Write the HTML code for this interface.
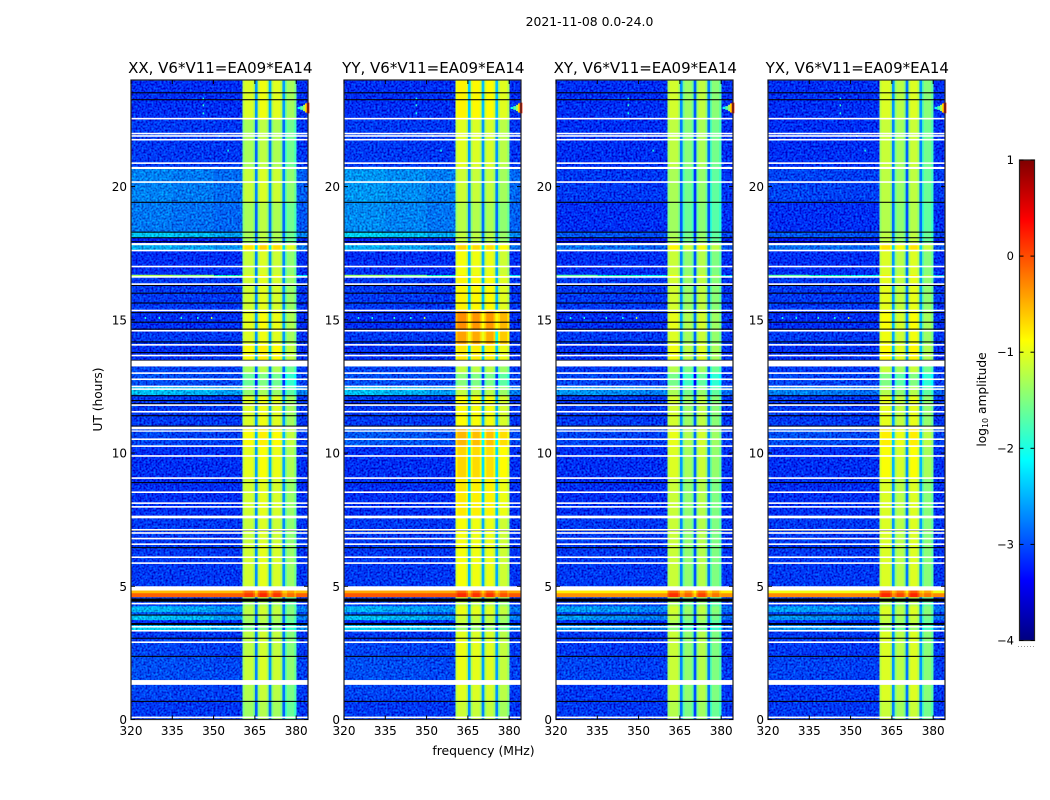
<!DOCTYPE html>
<html>
<head>
<meta charset="utf-8">
<title>2021-11-08 dynamic spectra</title>
<style>
html,body{margin:0;padding:0;background:#fff;width:1050px;height:800px;overflow:hidden}
svg{display:block;font-family:"DejaVu Sans","Liberation Sans",sans-serif}
</style>
</head>
<body>
<svg id="fig" xmlns="http://www.w3.org/2000/svg" width="1050" height="800" viewBox="0 0 1050 800">
  <defs>
    <filter id="grain" x="0" y="0" width="1" height="1" color-interpolation-filters="sRGB">
      <feTurbulence type="fractalNoise" baseFrequency="0.5" numOctaves="1" seed="4" result="n"/>
      <feColorMatrix in="n" type="matrix" values="0 0 0 0 0  1 0 0 0 0  1 0 0 0 0  0 0 0 0 1" result="m"/>
      <feComposite in="SourceGraphic" in2="m" operator="arithmetic" k1="0" k2="1" k3="0.85" k4="-0.47" result="c"/>
      <feComposite in="c" in2="SourceGraphic" operator="in"/>
    </filter>
    <linearGradient id="jetGrad" x1="0" y1="1" x2="0" y2="0"></linearGradient>
  </defs>
  <rect x="0" y="0" width="1050" height="800" fill="#fff"/>
  <text x="589.500" y="26" font-size="12.400" text-anchor="middle" fill="#000">2021-11-08 0.0-24.0</text>
  <text x="483.500" y="755" font-size="12.400" text-anchor="middle" fill="#000">frequency (MHz)</text>
  <text transform="translate(102,399.500) rotate(-90)" font-size="12.200" text-anchor="middle" fill="#000">UT (hours)</text>
  <g id="panels"></g>
  <g id="colorbar"></g>
  <text transform="translate(986,399.500) rotate(-90)" font-size="12.200" text-anchor="middle" fill="#000">log<tspan font-size="8" dy="2">10</tspan><tspan dy="-2"> amplitude</tspan></text>
</svg>
<script>
/* ---- shared axis data ---- */
const panelNames = ['XX', 'YY', 'XY', 'YX'];
const panelSuffix = ', V6*V11=EA09*EA14';
const xTicks = [320, 335, 350, 365, 380];
const yTicks = [0, 5, 10, 15, 20];
const cbarTicks = [-4, -3, -2, -1, 0, 1];

/* frequency channel edges (MHz) and what each channel block shows */
const freqEdges = [320, 335, 350, 360.5, 361.2, 364.3, 365, 366, 366.7, 369.3, 370, 371, 371.7, 374.3, 375, 376, 376.7, 379.3, 380, 384.3];
const freqKind = ['bg','bg','bg','band','band','band','notch','band','band','band','notch','band','band','band','notch','band','band','band','bg'];
const bandColumn = [0,0,0,0,0,0,0,1,1,1,1,2,2,2,2,3,3,3,0];
const bandShape = [0,0,0,-0.15,0.03,-0.15,0,-0.2,0.03,-0.2,0,-0.2,0.03,-0.2,0,-0.2,0.03,-0.2,0];
const bgWeight = [1,0.9,0.75,0,0,0,0,0,0,0,0,0,0,0,0,0,0,0,0.55];

/* time-block upper edges (hours UT) */
const timeTops = [0.73,1.48,2.38,2.99,3.36,3.55,3.74,3.92,4.04,4.26,4.60,4.75,4.86,6.55,7.64,9.07,10.27,10.95,12.19,12.52,13.01,13.50,14.08,14.65,15.38,16.62,16.69,17.59,17.89,18.08,18.31,19.4,20.71,22.51,24];

/* log10 amplitude per time block: off-band background */
const bgXX = [-3.05,-3.0,-2.95,-3.0,-3.05,-2.3,-3.1,-2.4,-2.9,-2.45,-3.0,-0.1,-0.55,-3.05,-3.05,-3.1,-3.1,-3.0,-3.05,-2.4,-2.95,-3.0,-3.1,-3.05,-3.1,-3.05,-1.3,-3.1,-2.5,-3.2,-2.35,-2.75,-2.7,-3.05,-3.1];
const bgYY = [-3.05,-3.0,-2.95,-3.0,-3.05,-2.3,-3.1,-2.4,-2.9,-2.45,-3.0,-0.05,-0.45,-3.05,-3.05,-3.1,-3.1,-2.9,-3.05,-2.4,-2.95,-3.0,-3.1,-3.05,-3.1,-3.05,-1.4,-3.1,-2.5,-3.2,-2.3,-2.65,-2.6,-3.05,-3.1];
const bgXY = [-3.05,-3.05,-3.0,-3.05,-3.05,-2.6,-3.1,-2.6,-3.0,-2.55,-3.0,-0.35,-0.8,-3.05,-3.05,-3.1,-3.1,-3.0,-3.05,-2.6,-3.0,-3.05,-3.1,-3.05,-3.1,-3.05,-1.7,-3.1,-2.8,-3.25,-2.9,-3.1,-3.05,-3.1,-3.1];
const bgYX = [-3.05,-3.05,-3.0,-3.05,-3.05,-2.6,-3.1,-2.6,-3.0,-2.55,-3.0,-0.3,-0.95,-3.05,-3.05,-3.1,-3.1,-2.95,-3.05,-2.7,-3.0,-3.05,-3.1,-3.05,-3.1,-3.05,-1.7,-3.1,-2.8,-3.25,-2.9,-3.1,-3.0,-3.1,-3.1];

/* log10 amplitude per time block: in-band emission */
const bandXX = [-1.3,-1.2,-1.1,-1.15,-1.15,-1.5,-1.3,-1.25,-1.15,-1.15,-1.3,0.15,-0.1,-1.05,-1.1,-1.05,-0.95,-0.85,-1.0,-1.35,-1.55,-1.25,-0.85,-1.0,-0.95,-1.05,-0.85,-1.1,-0.7,-1.25,-1.25,-1.25,-1.1,-1.25,-1.0];
const bandYY = [-1.15,-1.05,-1.0,-1.0,-1.05,-1.4,-1.2,-1.15,-1.0,-1.0,-1.2,0.15,-0.1,-0.95,-0.95,-0.8,-0.7,-0.55,-0.9,-1.2,-1.5,-1.2,-0.8,-0.45,-0.35,-0.85,-0.8,-0.95,-0.7,-1.2,-1.2,-1.25,-1.15,-1.05,-0.85];
const bandXY = [-1.25,-1.15,-1.15,-1.15,-1.15,-1.5,-1.3,-1.2,-1.15,-1.1,-1.3,0.15,-0.1,-1.15,-1.15,-1.15,-1.05,-1.0,-1.1,-1.3,-1.55,-1.25,-0.95,-1.05,-1.0,-1.1,-0.9,-1.15,-0.85,-1.25,-1.3,-1.35,-1.3,-1.2,-1.1];
const bandYX = [-1.2,-1.1,-1.1,-1.1,-1.1,-1.45,-1.25,-1.2,-1.1,-1.1,-1.3,0.15,-0.1,-1.1,-1.1,-1.1,-0.95,-0.85,-1.05,-1.3,-1.55,-1.2,-0.9,-1.0,-0.95,-1.05,-0.85,-1.1,-0.8,-1.25,-1.25,-1.3,-1.25,-1.2,-1.1];

/* per-panel offset for each of the four in-band columns */
const columnXX = [-0.08, 0.02, -0.05, -0.35];
const columnYY = [0, -0.03, -0.05, -0.2];
const columnXY = [-0.02, -0.28, -0.12, -0.38];
const columnYX = [0.02, -0.15, 0.03, -0.38];

/* how far the narrow notches sit below the band, normally and in the hot rows */
const notchDrop = 1.55;
const hotNotchDrop = 0.5;

/* flagged (white) time ranges, hours UT */
const gapStart = [0.05,1.30,2.87,3.30,3.45,4.32,4.84,5.84,6.06,6.55,6.76,6.97,7.09,7.55,7.95,8.09,8.50,9.03,9.86,10.23,10.49,10.80,10.89,11.52,11.77,12.37,12.47,12.74,12.97,13.25,13.63,14.03,14.56,15.32,16.31,16.58,16.97,17.57,17.80,20.14,20.66,20.85,21.73,21.87,21.96,22.52];
const gapEnd = [0.11,1.48,2.93,3.36,3.51,4.38,5.00,5.90,6.12,6.61,6.82,7.03,7.15,7.65,8.01,8.15,8.56,9.09,9.92,10.29,10.55,10.85,10.99,11.58,11.83,12.43,12.53,12.80,13.03,13.47,13.69,14.09,14.62,15.38,16.37,16.64,17.03,17.63,17.88,20.20,20.74,20.91,21.79,21.93,22.02,22.58];

/* zero-amplitude (black) time ranges, hours UT */
const zeroStart = [0.66,2.35,3.03,3.55,3.90,4.42,6.43,7.08,8.87,10.99,11.38,11.83,11.95,12.13,13.47,13.75,14.15,14.63,14.89,15.25,15.61,15.98,16.27,17.91,18.06,18.27,19.39,23.24,23.50];
const zeroEnd = [0.70,2.39,3.07,3.62,3.94,4.54,6.47,7.12,8.91,11.03,11.42,11.87,11.99,12.17,13.50,13.79,14.19,14.67,14.93,15.29,15.65,16.02,16.31,17.95,18.10,18.31,19.43,23.28,23.54];

/* narrow interference spur near the band edge */
const rfiFreq = [380.5, 381.5, 382.5, 383.2, 383.8];
const rfiHour = [22.95, 22.95, 22.95, 22.95, 22.95];
const rfiHalfSpan = [0.04, 0.07, 0.12, 0.17, 0.2];
const rfiLevel = [-2.1, -1.7, -1.3, -0.7, 0.2];

/* isolated hot pixels: MHz, hours, log10 amplitude */
const spotFreq = [346, 346, 346, 352, 355, 349, 330, 325, 338, 344, 349];
const spotHour = [23.3, 23.05, 22.75, 21.9, 21.35, 20.7, 15.07, 15.07, 15.07, 15.07, 15.07];
const spotLevel = [-2, -1.9, -2, -1.8, -2, -0.9, -2, -2, -1.9, -2, -1.2];

const bgByPanel = [bgXX, bgYY, bgXY, bgYX];
const bandByPanel = [bandXX, bandYY, bandXY, bandYX];
const columnByPanel = [columnXX, columnYY, columnXY, columnYX];

/* layout (pixels) */
const panelLeft = [131, 344, 556, 768];
const panelWidth = 177;
const plotTop = 80;
const plotBottom = 719.5;
const NS = 'http://www.w3.org/2000/svg';

function xScale(left, mhz) {
  return left + (mhz - 320) / (384.3 - 320) * panelWidth;
}
function yScale(hour) {
  return plotBottom - hour / 24 * (plotBottom - plotTop);
}
function jet(level) {
  const t = Math.max(0, Math.min(1, (level + 4) / 5));
  const ramp = (c) => Math.max(0, Math.min(1, 1.5 - Math.abs(4 * t - c)));
  return 'rgb(' + Math.round(ramp(3) * 255) + ',' + Math.round(ramp(2) * 255) + ',' + Math.round(ramp(1) * 255) + ')';
}
function make(tag, parent, attrs) {
  const el = document.createElementNS(NS, tag);
  for (const k in attrs) el.setAttribute(k, attrs[k]);
  parent.appendChild(el);
  return el;
}

const panelsRoot = document.getElementById('panels');

panelNames.forEach(function (name, p) {
  const left = panelLeft[p];
  const right = left + panelWidth;
  const g = make('g', panelsRoot, {});
  
  

  const grainLayer = make('g', g, { filter: 'url(#grain)' });
  
  

  const plainLayer = make('g', g, {});
  
  

  timeTops.forEach(function (top, ti) {
    const bottom = ti === 0 ? 0 : timeTops[ti - 1];
    const y0 = yScale(top);
    const y1 = yScale(bottom);
    freqKind.forEach(function (kind, fi) {
      const x0 = xScale(left, freqEdges[fi]);
      const x1 = xScale(left, freqEdges[fi + 1]);
      const floor = -3.1;
      const rowBg = bgByPanel[p][ti];
      const band = bandByPanel[p][ti] + columnByPanel[p][bandColumn[fi]];
      let level;
      if (kind === 'bg') {
        level = rowBg > -1 ? rowBg : floor + (rowBg - floor) * bgWeight[fi];
      } else if (kind === 'band') {
        level = band + bandShape[fi];
      } else {
        level = band - (band > -0.5 ? hotNotchDrop : notchDrop);
      }
      const layer = (kind === 'bg' && level < -1.7) ? grainLayer : plainLayer;
      const cell = make('rect', layer, { x: x0, y: y0, width: x1 - x0 + 0.3, height: y1 - y0 + 0.3, fill: jet(level) });
      
      
    });
  });

  rfiFreq.forEach(function (f, i) {
    const mark = make('rect', g, {
      x: xScale(left, f), y: yScale(rfiHour[i] + rfiHalfSpan[i]),
      width: xScale(left, f + 1) - xScale(left, f),
      height: yScale(rfiHour[i] - rfiHalfSpan[i]) - yScale(rfiHour[i] + rfiHalfSpan[i]),
      fill: jet(rfiLevel[i])
    });
    
    
  });

  spotFreq.forEach(function (f, i) {
    const spot = make('rect', g, {
      x: xScale(left, f), y: yScale(spotHour[i]) - 1, width: 1.5, height: 2, fill: jet(spotLevel[i])
    });
    
    
  });

  zeroStart.forEach(function (s, i) {
    const line = make('rect', g, {
      x: left, y: yScale(zeroEnd[i]), width: panelWidth, height: yScale(s) - yScale(zeroEnd[i]), fill: '#000'
    });
    
    
  });

  gapStart.forEach(function (s, i) {
    const gap = make('rect', g, {
      x: left, y: yScale(gapEnd[i]), width: panelWidth, height: yScale(s) - yScale(gapEnd[i]), fill: '#fff'
    });
    
    
  });

  const frame = make('rect', g, { x: left, y: plotTop, width: panelWidth, height: plotBottom - plotTop, fill: 'none', stroke: '#222', 'stroke-width': 1.2 });
  
  

  xTicks.forEach(function (t) {
    const x = xScale(left, t);
    const bot = make('line', g, { x1: x, x2: x, y1: plotBottom, y2: plotBottom - 4, stroke: '#000' });
    
    
    const topTick = make('line', g, { x1: x, x2: x, y1: plotTop, y2: plotTop + 4, stroke: '#000' });
    
    
    const label = make('text', g, { x: x, y: 735, 'font-size': 12, 'text-anchor': 'middle', fill: '#000' });
    label.textContent = String(t);
    
    
  });

  yTicks.forEach(function (t) {
    const y = yScale(t);
    const l = make('line', g, { x1: left, x2: left + 4, y1: y, y2: y, stroke: '#000' });
    
    
    const r = make('line', g, { x1: right, x2: right - 4, y1: y, y2: y, stroke: '#000' });
    
    
    const label = make('text', g, { x: left - 4, y: y + 4.5, 'font-size': 12, 'text-anchor': 'end', fill: '#000' });
    label.textContent = String(t);
    
    
  });

  const title = make('text', g, { x: left + panelWidth / 2 + 0.8, y: 73, 'font-size': 15, 'text-anchor': 'middle', fill: '#000' });
  title.textContent = name + panelSuffix;
  
  
});

/* colour bar */
const cbLeft = 1019.5, cbRight = 1034.5, cbTop = 160, cbBottom = 640.5;
function cbScale(v) {
  return cbBottom - (v + 4) / 5 * (cbBottom - cbTop);
}
const grad = document.getElementById('jetGrad');
for (let v = -4; v <= 1.0001; v += 0.125) {
  const st = make('stop', grad, { offset: (v + 4) / 5, 'stop-color': jet(v) });
}
const cb = document.getElementById('colorbar');
const bar = make('rect', cb, { x: cbLeft, y: cbTop, width: cbRight - cbLeft, height: cbBottom - cbTop, fill: 'url(#jetGrad)', stroke: '#222', 'stroke-width': 1.2 });


cbarTicks.forEach(function (t) {
  const y = cbScale(t);
  const a = make('line', cb, { x1: cbLeft, x2: cbLeft + 4, y1: y, y2: y, stroke: '#000' });
  
  
  const b = make('line', cb, { x1: cbRight, x2: cbRight - 4, y1: y, y2: y, stroke: '#000' });
  
  
  const label = make('text', cb, { x: 1014, y: y + 4, 'font-size': 11.5, 'text-anchor': 'end', fill: '#000' });
  label.textContent = t < 0 ? '\u2212' + Math.abs(t) : String(t);
  
  
});
const dots = make('line', cb, { x1: 1018, x2: 1035, y1: 646.5, y2: 646.5, stroke: '#999', 'stroke-width': 1, 'stroke-dasharray': '1 2' });


</script>
</body>
</html>
